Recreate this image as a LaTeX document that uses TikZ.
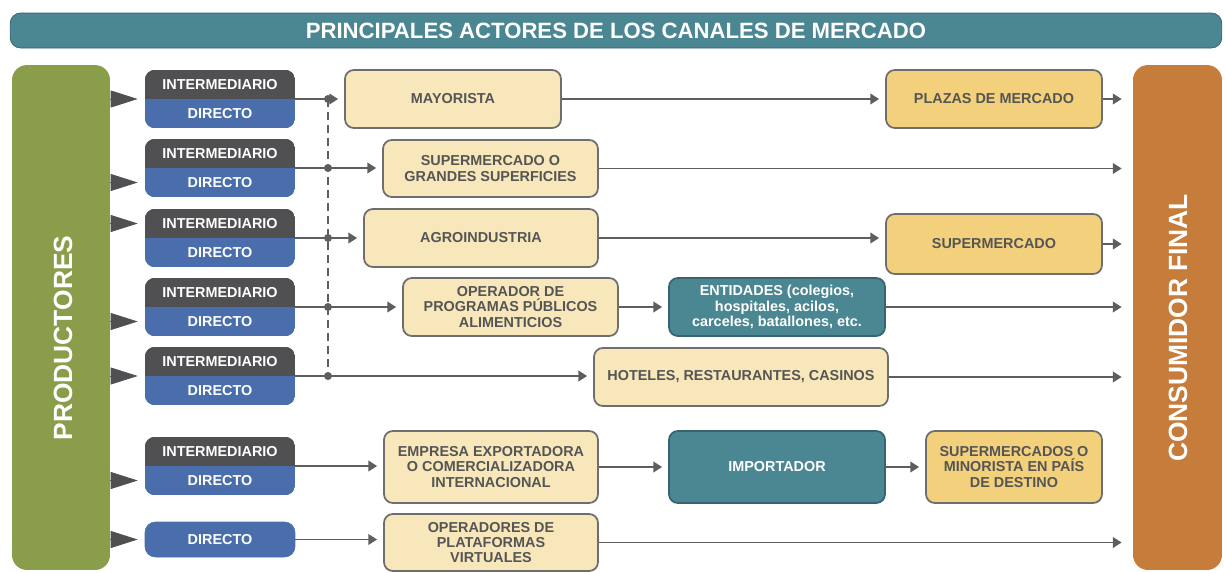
\documentclass[tikz,border=0pt]{standalone}
\usepackage{fontspec}
\setmainfont{Liberation Sans}
\usetikzlibrary{calc, positioning, arrows.meta, backgrounds}

\definecolor{tealbox}{HTML}{4B8792}
\definecolor{prodgreen}{HTML}{8A9D4A}
\definecolor{consorange}{HTML}{C67C3B}
\definecolor{intgray}{HTML}{505052}
\definecolor{dirblue}{HTML}{4A6DAC}
\definecolor{lightyel}{HTML}{F7E7BA}
\definecolor{darkyel}{HTML}{F2D07C}
\definecolor{edgegray}{HTML}{6E6E6E}
\definecolor{linegray}{HTML}{5E5E5E}
\definecolor{txtgray}{HTML}{555555}

\begin{document}
\begin{tikzpicture}
[
    x = 0.02cm, y = -0.02cm,
    every node/.style = {font=\bfseries\fontsize{8.2}{8.8}\selectfont, align=center, inner sep=0pt},
    arr/.style = {draw=linegray, line width=1.1pt, -{Triangle[length=5pt, width=6pt]}, shorten >=0.12cm},
    dashln/.style = {draw=linegray, line width=1pt, dash pattern=on 0.16cm off 0.1cm},
    prodtip/.style = {draw=intgray, line width=0.4pt, -{Triangle[length=0.54cm, width=0.34cm]}, shorten >=0.14cm}
  ]

  \tikzset{ybox/.style = {draw=edgegray, line width=1pt, rounded corners=5pt, fill=lightyel,
                          text=txtgray, minimum height=1.16cm},
           dybox/.style = {ybox, fill=darkyel},
           tbox/.style = {ybox, draw=tealbox!75!black, fill=tealbox, text=white},
           imbox/.style = {text=white, minimum width=3cm, minimum height=1.16cm,
                           font=\bfseries\fontsize{8.2}{16.5}\selectfont},
           dirbox/.style = {draw=dirblue, rounded corners=6pt, fill=dirblue, text=white, minimum width=3cm,
                            minimum height=0.7cm},
           sidebox/.style = {rounded corners=0.3cm, minimum height=10.1cm}}

  \useasboundingbox (0,0) rectangle (1225,572);

  % header and the two sides
  \node[rounded corners=6pt, fill=tealbox, draw=tealbox!70!black, text=white,
        minimum width=24.24cm, minimum height=0.7cm, font=\bfseries\fontsize{12.6}{14}\selectfont]
        (title) at (616,30.5) {PRINCIPALES ACTORES DE LOS CANALES DE MERCADO};
  \node[sidebox, fill=prodgreen, minimum width=1.96cm] (prod) at (61,317.5) {};
  \node[sidebox, fill=consorange, minimum width=1.78cm] (cons) at (1177.5,317.5) {};
  \node[rotate=90, text=white, font=\bfseries\fontsize{15}{17}\selectfont] (prodtxt) at (63,338) {PRODUCTORES};
  \node[rotate=90, text=white, font=\bfseries\fontsize{15}{17}\selectfont] (constxt) at (1178,328) {CONSUMIDOR FINAL};

  % intermediario / directo
  \node[imbox] (b1) at (220,99) {INTERMEDIARIO\\DIRECTO};
  \node[imbox] (b2) at (220,168) {INTERMEDIARIO\\DIRECTO};
  \node[imbox] (b3) at (220,238) {INTERMEDIARIO\\DIRECTO};
  \node[imbox] (b4) at (220,307) {INTERMEDIARIO\\DIRECTO};
  \node[imbox] (b5) at (220,376) {INTERMEDIARIO\\DIRECTO};
  \node[imbox] (b6) at (220,466) {INTERMEDIARIO\\DIRECTO};
  \node[dirbox] (b7) at (220,539.5) {DIRECTO};

  \begin{scope}[on background layer]
    \foreach \i in {1,...,6} {
      \begin{scope}
        \clip[rounded corners=6pt] (b\i.north west) rectangle (b\i.south east);
        \fill[intgray] (b\i.north west) rectangle (b\i.east);
        \fill[dirblue] (b\i.west) rectangle (b\i.south east);
      \end{scope}
    }
  \end{scope}

  % actors
  \node[ybox, minimum width=4.32cm] (mayor) at (453,99) {MAYORISTA};
  \node[ybox, minimum width=4.3cm, minimum height=1.14cm] (super) at (490.5,168.5) {SUPERMERCADO O\\GRANDES SUPERFICIES};
  \node[ybox, minimum width=4.68cm] (agro) at (481,238) {AGROINDUSTRIA};
  \node[ybox, minimum width=4.3cm] (oper) at (510.5,307) {OPERADOR DE\\PROGRAMAS PÚBLICOS\\ALIMENTICIOS};
  \node[ybox, minimum width=5.88cm] (hotel) at (741,377) {HOTELES, RESTAURANTES, CASINOS};
  \node[ybox, minimum width=4.28cm, minimum height=1.44cm] (export) at (491,467) {EMPRESA EXPORTADORA\\O COMERCIALIZADORA\\INTERNACIONAL};
  \node[ybox, minimum width=4.28cm, minimum height=1.14cm] (virt) at (491,542.5) {OPERADORES DE\\PLATAFORMAS\\VIRTUALES};

  \node[dybox, minimum width=4.32cm] (plaza) at (994,99) {PLAZAS DE MERCADO};
  \node[dybox, minimum width=4.32cm, minimum height=1.2cm] (smkt) at (994,244) {SUPERMERCADO};
  \node[dybox, minimum width=3.52cm, minimum height=1.44cm] (smkts) at (1014,467) {SUPERMERCADOS O\\MINORISTA EN PAÍS\\DE DESTINO};

  \node[tbox, minimum width=4.32cm] (entid) at (777,307) {ENTIDADES (colegios,\\hospitales, acilos,\\carceles, batallones, etc.};
  \node[tbox, minimum width=4.32cm, minimum height=1.44cm] (import) at (777,467) {IMPORTADOR};

  % productores to the channels
  \coordinate (t1) at (b1.west);
  \coordinate (t2) at ($(b2.west)+(0,14.5)$);
  \coordinate (t3) at ($(b3.west)+(0,-14.5)$);
  \coordinate (t4) at ($(b4.west)+(0,14.5)$);
  \coordinate (t5) at (b5.west);
  \coordinate (t6) at ($(b6.west)+(0,14.5)$);
  \coordinate (t7) at (b7.west);
  \foreach \i in {1,...,7}
    \draw[prodtip] (prod.east |- t\i) -- (t\i);

  % channels
  \coordinate (dash) at (328,0);
  \foreach \i in {1,...,5}
    \coordinate (j\i) at (b\i.east -| dash);
  \draw[dashln] (j1) -- (j5);

  \foreach \a/\b in {b1/mayor, b2/super, b3/agro, b4/oper, b5/hotel, b6/export, b7/virt}
    \draw[arr] (\a.east) -- (\a.east -| \b.west);
  \foreach \a/\b in {mayor/plaza, agro/smkt, oper/entid, export/import, import/smkts}
    \draw[arr] (\a.east) -- (\a.east -| \b.west);
  \foreach \a in {plaza, super, smkt, entid, hotel, virt}
    \draw[arr, shorten >=0.22cm] (\a.east) -- (\a.east -| cons.west);

  \foreach \i in {1,...,5}
    \fill[linegray] (j\i) circle (0.08cm);

\end{tikzpicture}
\end{document}
